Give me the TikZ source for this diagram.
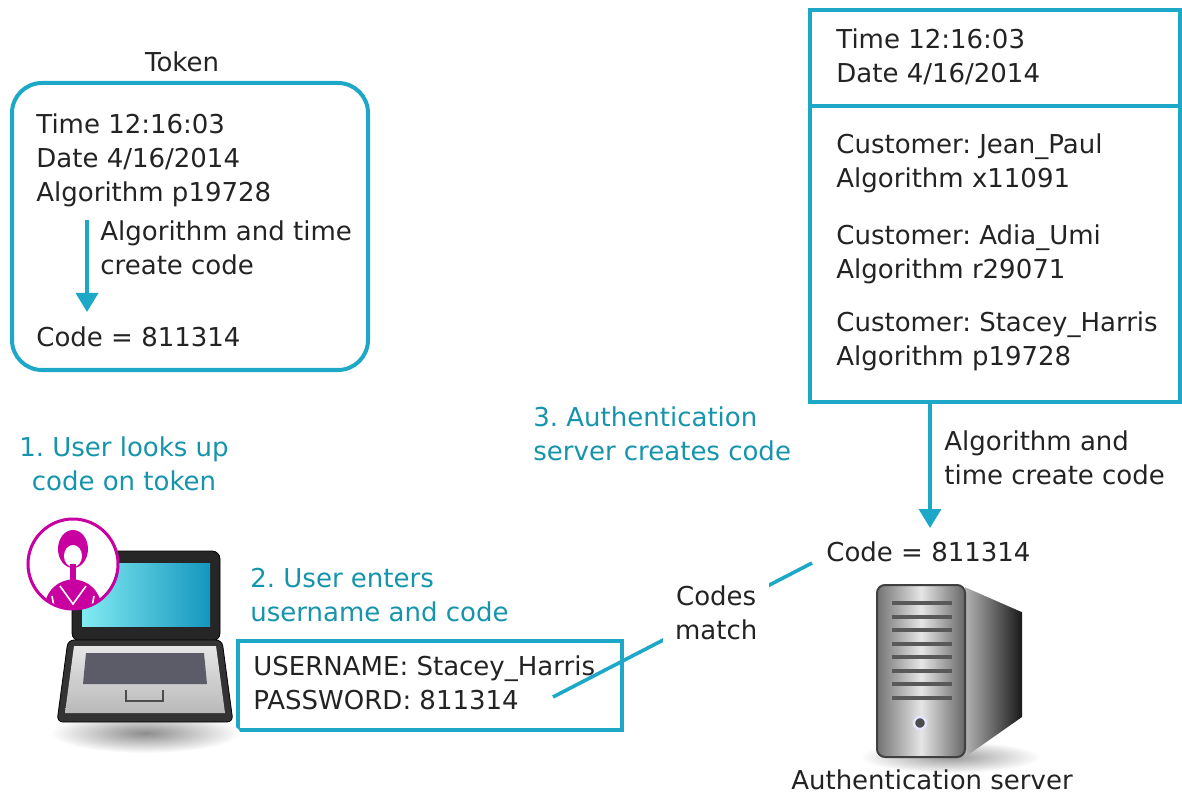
\documentclass[tikz,border=0pt]{standalone}
\usepackage{fontspec}
\setmainfont{DejaVu Sans}
\usepackage{tikz}
\usetikzlibrary{arrows,arrows.meta,shapes}
\frenchspacing
\definecolor{tealline}{RGB}{30,168,200}
\definecolor{tealtext}{RGB}{22,148,172}
\definecolor{ink}{RGB}{35,35,35}
\definecolor{magent}{RGB}{200,0,160}
\definecolor{screenlight}{RGB}{130,235,242}
\definecolor{screendark}{RGB}{20,150,190}
\tikzstyle{info} = [anchor=west, inner sep=0pt, align=left, text=ink, font=\fontsize{13}{17}\selectfont]
\tikzstyle{note} = [info, text=tealtext]
\tikzstyle{frame} = [draw=tealline, line width=2pt]
\tikzstyle{line} = [draw, line width=1.8pt, color=tealline, -{Triangle[length=9.5pt,width=11pt]}]
\tikzstyle{link} = [draw=tealline, line width=1.8pt]

\begin{document}
\begin{tikzpicture}[x=0.5pt, y=-0.5pt]
		\useasboundingbox (0,0) rectangle (1182,796);
		% Token
		\draw [frame, rounded corners=15pt] (12,83) rectangle (368,370);
		\node [info, anchor=center] (token) at (182,62) {Token};
		\node [info] (toktime) at (36,160) {Time 12:16:03\\Date 4/16/2014\\Algorithm p19728};
		\node [info] (tokhow) at (100,248) {Algorithm and time\\create code};
		\node [info] (tokcode) at (36,337) {Code = 811314};
		\coordinate (tokfrom) at (87,220);
		\coordinate (tokto) at (87,312);
		% Server records
		\draw [frame] (810,10) rectangle (1180,402);
		\draw [frame] (810,106) -- (1180,106);
		\node [info] (srvtime) at (836,57) {Time 12:16:03\\Date 4/16/2014};
		\node [info] (cust1) at (836,163) {Customer: Jean\_Paul\\Algorithm x11091};
		\node [info] (cust2) at (836,254) {Customer: Adia\_Umi\\Algorithm r29071};
		\node [info] (cust3) at (836,341) {Customer: Stacey\_Harris\\Algorithm p19728};
		\coordinate (srvfrom) at (930,402);
		\coordinate (srvto) at (930,528);
		\node [info] (srvhow) at (944,458) {Algorithm and\\time create code};
		\node [info] (srvcode) at (826,552) {Code = 811314};
		% Steps
		\node [note, align=center, anchor=center] (step1) at (124,464) {1. User looks up\\code on token};
		\node [note] (step2) at (250,595) {2. User enters\\username and code};
		\node [note] (step3) at (533,434) {3. Authentication\\server creates code};
		% Login form
		\draw [frame] (238,641) rectangle (622,730);
		\node [info] (login) at (253,683) {USERNAME: Stacey\_Harris\\PASSWORD: 811314};
		\coordinate (pwend) at (553,697);
		\coordinate (codeend) at (812,563);
		% Laptop
		\shade [inner color=black!45, outer color=white] (145,733) ellipse (95 and 20);
		\draw [fill=black!85, rounded corners=4pt] (72,551) rectangle (220,641);
		\shade [left color=screenlight, right color=screendark] (82,563) rectangle (210,626);
		\draw [fill=black!80, rounded corners=3pt] (68,640) -- (222,640) -- (233,722) -- (57,722) -- cycle;
		\shade [top color=gray!20, bottom color=gray!55] (74,646) -- (216,646) -- (225,713) -- (65,713) -- cycle;
		\fill [fill={rgb,255:red,92;green,92;blue,104}] (86,653) -- (204,653) -- (207,684) -- (83,684) -- cycle;
		\draw [black!70, line width=1pt] (126,690) -- (126,701) -- (163,701) -- (163,690);
		% User
		\draw [magent, line width=1.5pt, fill=white] (73,564) circle (45);
		\begin{scope}
			\clip (73,564) circle (44);
			\fill [magent] (73,549) ellipse (15 and 19);
			\fill [white] (73,556) ellipse (9 and 11);
			\fill [magent] (70,564) rectangle (76,580);
			\fill [magent] (43,612) .. controls (46,588) and (58,581) .. (73,579) .. controls (88,581) and (100,588) .. (103,612) -- cycle;
			\draw [white, line width=0.8pt] (60,586) -- (73,604) -- (86,586);
			\draw [white, line width=0.8pt] (52,596) -- (55,612);
			\draw [white, line width=0.8pt] (94,596) -- (91,612);
		\end{scope}
		% Server
		\shade [inner color=black!40, outer color=white] (950,757) ellipse (90 and 16);
		\shade [left color=gray!60, right color=black!90] (965,586) -- (1022,611) -- (1022,717) -- (965,757) -- cycle;
		\draw [white, line width=1pt] (965,586) -- (1022,611);
		\shadedraw [left color=black!55, right color=black!60, middle color=gray!20, draw=black!75, line width=1pt, rounded corners=4pt] (877,585) rectangle (965,757);
		\draw [black!65, line width=2pt] (892,603) -- (952,603) (892,616.5) -- (952,616.5) (892,630) -- (952,630) (892,643.5) -- (952,643.5) (892,657) -- (952,657) (892,670.5) -- (952,670.5) (892,684) -- (952,684) (892,697.5) -- (952,697.5);
		\draw [fill=black!70, draw=blue!10, line width=1.2pt] (920,723) circle (6);
		\node [info, anchor=center] (srvname) at (932,780) {Authentication server};
		% Draw edges
		\path [line] (tokfrom) -- (tokto);
		\path [line] (srvfrom) -- (srvto);
		\draw [link] (pwend) -- node [info, anchor=center, align=center, pos=0.63, fill=white, inner xsep=6pt, inner ysep=6pt] (match) {Codes\\match} (codeend);
	\end{tikzpicture}
\end{document}
